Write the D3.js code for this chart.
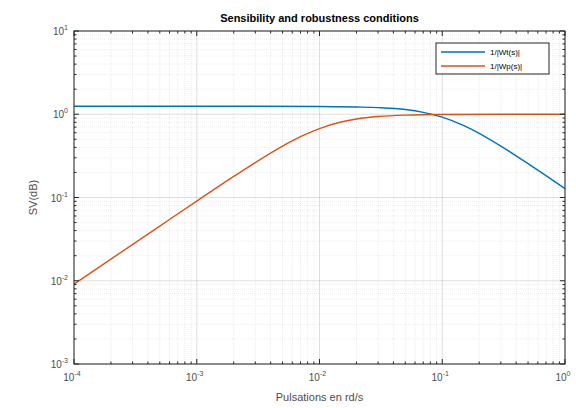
<!DOCTYPE html>
<html>
<head>
<meta charset="utf-8">
<script src="https://cdn.jsdelivr.net/npm/d3@7"></script>
<style>
  html, body { margin: 0; padding: 0; background: #ffffff; }
  svg { display: block; font-family: "Liberation Sans", Arial, Helvetica, sans-serif; }
</style>
</head>
<body>
<svg id="chart" width="576" height="408"></svg>
<script>
// Frequency grid (rad/s) and magnitudes of the two weighting inverses
const omegaT = [1e-4, 1e-3, 1e-2, 2e-2, 3e-2, 5e-2, 7e-2, 1e-1, 1.5e-1, 2e-1, 3e-1, 5e-1, 7e-1, 1];
const invWt  = [1.25, 1.25, 1.24, 1.22, 1.20, 1.14, 1.055, 0.925, 0.73, 0.59, 0.415, 0.255, 0.183, 0.128];

const omegaP = [1e-4, 2e-4, 5e-4, 1e-3, 2e-3, 3e-3, 5e-3, 7e-3, 1e-2, 1.5e-2, 2e-2, 3e-2, 5e-2, 1e-1, 1];
const invWp  = [0.0091, 0.0182, 0.0454, 0.0905, 0.179, 0.263, 0.414, 0.537, 0.673, 0.806, 0.876, 0.939, 0.977, 0.994, 1.0];

const xTickVals = [1e-4, 1e-3, 1e-2, 1e-1, 1];
const xTickExps = ["-4", "-3", "-2", "-1", "0"];
const yTickVals = [1e-3, 1e-2, 1e-1, 1, 10];
const yTickExps = ["-3", "-2", "-1", "0", "1"];

const seriesNames = ["1/|Wt(s)|", "1/|Wp(s)|"];
const seriesColors = ["#0072BD", "#D95319"];

const titleText = "Sensibility and robustness conditions";
const xLabelText = "Pulsations en rd/s";
const yLabelText = "SV(dB)";

const svg = d3.select("#chart");
const plot = { left: 74, right: 565, top: 31, bottom: 364 };

const x = d3.scaleLog().domain([1e-4, 1]).range([plot.left, plot.right]);
const y = d3.scaleLog().domain([1e-3, 10]).range([plot.bottom, plot.top]);

const axisColor = "#262626";

// minor values for each decade
function minors(lo, hi) {
  const out = [];
  for (let e = Math.log10(lo); e < Math.log10(hi); e++) {
    for (let k = 2; k <= 9; k++) out.push(k * Math.pow(10, e));
  }
  return out;
}
const xMinor = minors(1e-4, 1);
const yMinor = minors(1e-3, 10);

const g = svg.append("g");

// plot background
g.append("rect")
  .attr("x", plot.left).attr("y", plot.top)
  .attr("width", plot.right - plot.left).attr("height", plot.bottom - plot.top)
  .attr("fill", "#ffffff");

// minor grid
const grid = g.append("g");
grid.selectAll("line.xm").data(xMinor).join("line")
  .attr("x1", d => x(d)).attr("x2", d => x(d))
  .attr("y1", plot.top).attr("y2", plot.bottom)
  .attr("stroke", axisColor).attr("stroke-opacity", 0.09).attr("stroke-width", 1)
  .attr("stroke-dasharray", "1,1");
grid.selectAll("line.ym").data(yMinor).join("line")
  .attr("y1", d => y(d)).attr("y2", d => y(d))
  .attr("x1", plot.left).attr("x2", plot.right)
  .attr("stroke", axisColor).attr("stroke-opacity", 0.08).attr("stroke-width", 1)
  .attr("stroke-dasharray", "1,1");

// major grid
grid.selectAll("line.xM").data(xTickVals).join("line")
  .attr("x1", d => x(d)).attr("x2", d => x(d))
  .attr("y1", plot.top).attr("y2", plot.bottom)
  .attr("stroke", axisColor).attr("stroke-opacity", 0.15).attr("stroke-width", 1);
grid.selectAll("line.yM").data(yTickVals).join("line")
  .attr("y1", d => y(d)).attr("y2", d => y(d))
  .attr("x1", plot.left).attr("x2", plot.right)
  .attr("stroke", axisColor).attr("stroke-opacity", 0.15).attr("stroke-width", 1);

// curves
const line = d3.line()
  .x(d => x(d[0]))
  .y(d => y(d[1]))
  .curve(d3.curveMonotoneX);

const series = [
  d3.zip(omegaT, invWt),
  d3.zip(omegaP, invWp)
];

g.append("defs").append("clipPath").attr("id", "clip")
  .append("rect")
  .attr("x", plot.left).attr("y", plot.top)
  .attr("width", plot.right - plot.left).attr("height", plot.bottom - plot.top);

g.append("g").attr("clip-path", "url(#clip)")
  .selectAll("path").data(series).join("path")
  .attr("d", line)
  .attr("fill", "none")
  .attr("stroke", (d, i) => seriesColors[i])
  .attr("stroke-width", 1.4);

// axes: ticks inward on all four sides
const majorLen = 5, minorLen = 2.5;
const axes = g.append("g").attr("stroke", axisColor).attr("stroke-width", 1);

function xTicks(vals, len) {
  axes.selectAll(null).data(vals).join("line")
    .attr("x1", d => x(d)).attr("x2", d => x(d))
    .attr("y1", plot.bottom).attr("y2", plot.bottom - len);
  axes.selectAll(null).data(vals).join("line")
    .attr("x1", d => x(d)).attr("x2", d => x(d))
    .attr("y1", plot.top).attr("y2", plot.top + len);
}
function yTicks(vals, len) {
  axes.selectAll(null).data(vals).join("line")
    .attr("y1", d => y(d)).attr("y2", d => y(d))
    .attr("x1", plot.left).attr("x2", plot.left + len);
  axes.selectAll(null).data(vals).join("line")
    .attr("y1", d => y(d)).attr("y2", d => y(d))
    .attr("x1", plot.right).attr("x2", plot.right - len);
}
xTicks(xTickVals, majorLen);
xTicks(xMinor, minorLen);
yTicks(yTickVals, majorLen);
yTicks(yMinor, minorLen);

axes.append("rect")
  .attr("x", plot.left).attr("y", plot.top)
  .attr("width", plot.right - plot.left).attr("height", plot.bottom - plot.top)
  .attr("fill", "none");

// tick labels with superscript exponents
const labelColor = "#4d4d4d";
function powLabel(sel, exp) {
  sel.append("tspan").text("10");
  sel.append("tspan").text(exp).attr("font-size", 7).attr("dy", -5);
}
xTickVals.forEach((v, i) => {
  const t = g.append("text")
    .attr("x", x(v) - 2).attr("y", plot.bottom + 17)
    .attr("text-anchor", "middle")
    .attr("font-size", 10).attr("fill", labelColor);
  powLabel(t, xTickExps[i]);
});
yTickVals.forEach((v, i) => {
  const t = g.append("text")
    .attr("x", plot.left - 6).attr("y", y(v) + 4)
    .attr("text-anchor", "end")
    .attr("font-size", 10).attr("fill", labelColor);
  powLabel(t, yTickExps[i]);
});

// title and axis labels
g.append("text")
  .attr("x", (plot.left + plot.right) / 2).attr("y", 22)
  .attr("text-anchor", "middle")
  .attr("font-size", 11).attr("font-weight", "bold").attr("fill", "#000")
  .text(titleText);

g.append("text")
  .attr("x", (plot.left + plot.right) / 2).attr("y", 401)
  .attr("text-anchor", "middle")
  .attr("font-size", 11).attr("fill", labelColor)
  .text(xLabelText);

g.append("text")
  .attr("transform", `translate(37, ${(plot.top + plot.bottom) / 2}) rotate(-90)`)
  .attr("text-anchor", "middle")
  .attr("font-size", 11).attr("fill", labelColor)
  .text(yLabelText);

// legend
const legend = g.append("g");
const lg = { x: 436, y: 43, w: 113, h: 31 };
legend.append("rect")
  .attr("x", lg.x).attr("y", lg.y).attr("width", lg.w).attr("height", lg.h)
  .attr("fill", "#ffffff").attr("stroke", axisColor).attr("stroke-width", 1);
seriesNames.forEach((name, i) => {
  const ry = lg.y + 9 + i * 14;
  legend.append("line")
    .attr("x1", lg.x + 5).attr("x2", lg.x + 49)
    .attr("y1", ry).attr("y2", ry)
    .attr("stroke", seriesColors[i]).attr("stroke-width", 1.4);
  legend.append("text")
    .attr("x", lg.x + 54).attr("y", ry + 3)
    .attr("font-size", 8).attr("fill", "#000")
    .text(name);
});
</script>
</body>
</html>
